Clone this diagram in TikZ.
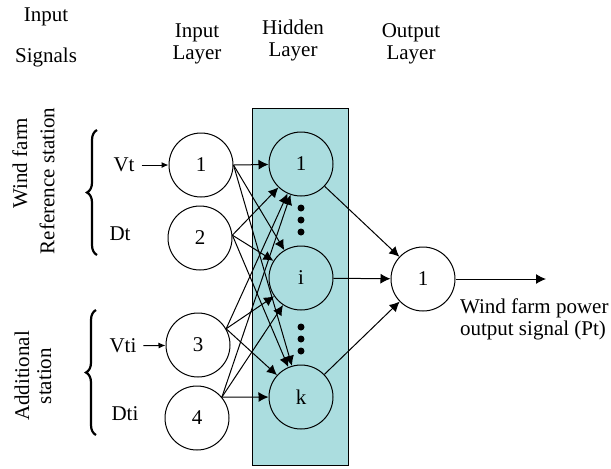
\documentclass[tikz,border=0pt]{standalone}
\usepackage{fontspec}
\setmainfont{Liberation Serif}
\usetikzlibrary{arrows.meta,decorations.pathreplacing}
\definecolor{hiddenfill}{RGB}{171,221,223}

\begin{document}
\begin{tikzpicture}[x=0.5pt,y=-0.5pt,font=\fontsize{10.5}{11}\selectfont,
  neuron/.style={draw,circle,minimum size=32pt,inner sep=0pt,line width=0.5pt},
  link/.style={-{Latex[length=5pt,width=5pt]},line width=0.5pt},
  feed/.style={-{Latex[length=3.5pt,width=3pt]},line width=0.5pt},
  bigdot/.style={circle,fill,inner sep=0pt,minimum size=3.5pt},
  curly/.style={decorate,decoration={brace,amplitude=5pt},line width=1.1pt}]
  \useasboundingbox (0,0) rectangle (611,468);

  \draw[fill=hiddenfill,line width=0.5pt] (252,108) rectangle (348,465);

  % headings
  \node (sigTop) at (46,17) {Input};
  \node (sigBot) at (46,57) {Signals};
  \node[align=center] (inHead) at (197,44) {Input\\Layer};
  \node[align=center] (hidHead) at (293,40) {Hidden\\Layer};
  \node[align=center] (outHead) at (411,44) {Output\\Layer};

  % station labels
  \node[rotate=90] (refA) at (20,163) {Wind farm};
  \node[rotate=90] (refB) at (47,181) {Reference station};
  \node[rotate=90,align=center] (addSt) at (33,376) {Additional\\station};
  \draw[curly] (97,255) -- (97,130);
  \draw[curly] (96,435) -- (96,310);

  \node (vt) at (124,165) {Vt};
  \node (dt) at (120,234) {Dt};
  \node (vti) at (123,346) {Vti};
  \node (dti) at (125,414) {Dti};

  % layers
  \node[neuron] (in1) at (201,165) {1};
  \node[neuron] (in2) at (200,238) {2};
  \node[neuron] (in3) at (198,345) {3};
  \node[neuron] (in4) at (197,418) {4};

  \node[neuron] (h1) at (301,164) {1};
  \node[neuron] (hi) at (301,278) {i};
  \node[neuron] (hk) at (301,397) {k};
  \node[neuron] (out) at (423,279) {1};

  \foreach \y in {208,220,232,327,339,351}
    \node[bigdot] (dot\y) at (301,\y) {};

  \draw[feed] (vt) -- (in1);
  \draw[feed] (vti) -- (in3);

  \foreach \a/\s in {in1/0,in2/5,in3/30,in4/40}
    \foreach \b in {h1,hi,hk}
      \draw[link] (\a.\s) -- (\b);

  \draw[link] (h1) -- (out);
  \draw[link] (hi) -- (out);
  \draw[link] (hk) -- (out);

  \coordinate (pt) at (546,279);
  \draw[link] (out) -- (pt);
  \node[anchor=north west,align=left] (outText) at (453,292) {Wind farm power\\output signal (Pt)};
\end{tikzpicture}
\end{document}
